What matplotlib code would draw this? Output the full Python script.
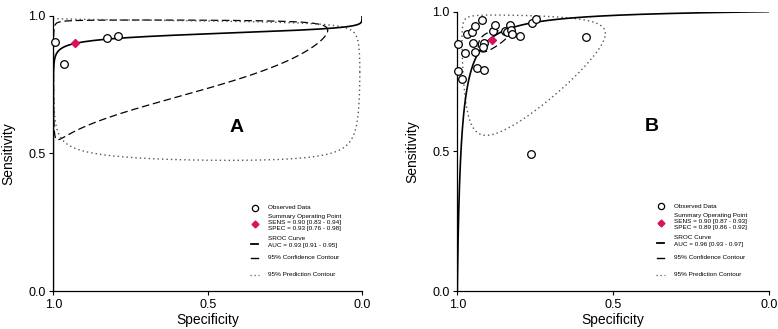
import numpy as np
import matplotlib.pyplot as plt

plt.rcParams['font.family'] = ['Liberation Sans', 'DejaVu Sans']

# ---- panel A data ----
a_spec = [0.995, 0.966, 0.827, 0.792]
a_sens = [0.905, 0.824, 0.920, 0.927]
a_summary = (0.93, 0.90)            # (spec, sens)
a_sroc = (2.666, 0.181)             # logit(sens) = alpha + beta*logit(1-spec)
# contours in logit space: centre u (logit fpr), centre v (logit sens), half-width u, half-width v, rho
a_conf = (-2.59, 2.20, 4.67, 2.00, 0.35)
a_pred = (-2.59, 2.25, 7.54, 2.35, -0.38)
a_text = ["SENS = 0.90 [0.83 - 0.94]", "SPEC = 0.93 [0.76 - 0.98]", "AUC = 0.93 [0.91 - 0.95]"]

# ---- panel B data ----
b_spec = [0.998, 0.998, 0.985, 0.974, 0.970, 0.953, 0.951, 0.942, 0.944, 0.938,
          0.922, 0.913, 0.914, 0.917, 0.887, 0.879, 0.846, 0.841, 0.830, 0.827,
          0.826, 0.799, 0.759, 0.749, 0.588, 0.765]
b_sens = [0.883, 0.789, 0.758, 0.853, 0.919, 0.926, 0.889, 0.947, 0.854, 0.800,
          0.970, 0.790, 0.889, 0.875, 0.930, 0.952, 0.932, 0.927, 0.951, 0.936,
          0.919, 0.913, 0.958, 0.975, 0.909, 0.489]
b_summary = (0.89, 0.90)
b_sroc = (4.30, 0.97)
b_conf = (-2.13, 2.20, 0.50, 0.42, 0.55)
b_pred = (-2.14, 2.32, 2.04, 2.09, 0.07)
b_text = ["SENS = 0.90 [0.87 - 0.93]", "SPEC = 0.89 [0.86 - 0.92]", "AUC = 0.96 [0.93 - 0.97]"]

diamond_col = '#d6135c'


def expit(x):
    return 1.0 / (1.0 + np.exp(-x))


def contour(params):
    cu, cv, ru, rv, rho = params
    t = np.linspace(0, 2 * np.pi, 600)
    u = cu + ru * np.cos(t)
    v = cv + rv * (rho * np.cos(t) + np.sqrt(1 - rho ** 2) * np.sin(t))
    return 1 - expit(u), expit(v)


def panel(ax, spec, sens, summary, sroc, conf, pred, texts, letter, lpos):
    u = np.linspace(-60, 60, 8000)
    ax.plot(1 - expit(u), expit(sroc[0] + sroc[1] * u), color='black', lw=1.2, zorder=3)
    cx, cy = contour(conf)
    ax.plot(cx, cy, color='black', lw=0.9, dashes=(6, 3), zorder=2)
    px, py = contour(pred)
    ax.plot(px, py, color='#555555', lw=1.0, linestyle=(0, (1, 2.2)), zorder=2)
    ax.plot(spec, sens, 'o', ms=5.5, mfc='white', mec='black', mew=0.9, clip_on=False, zorder=4)
    ax.plot(*summary, 'D', ms=4.5, color=diamond_col, clip_on=False, zorder=5)

    ax.set_xlim(1, 0)
    ax.set_ylim(0, 1)
    ax.set_xticks([1.0, 0.5, 0.0])
    ax.set_yticks([0.0, 0.5, 1.0])
    ax.set_xticklabels(['1.0', '0.5', '0.0'])
    ax.set_yticklabels(['0.0', '0.5', '1.0'])
    ax.tick_params(labelsize=9, length=3, width=0.8, pad=2.5)
    for s in ['top', 'right']:
        ax.spines[s].set_visible(False)
    for s in ['left', 'bottom']:
        ax.spines[s].set_linewidth(0.9)
    ax.set_xlabel('Specificity', fontsize=10, labelpad=1.5)
    ax.set_ylabel('Sensitivity', fontsize=10, labelpad=9)
    ax.text(lpos[0], lpos[1], letter, transform=ax.transAxes, fontsize=14,
            fontweight='bold', ha='center', va='center')

    # hand drawn legend
    tr = ax.transAxes
    mx, tx = 0.652, 0.695
    fs = 4.6
    ax.plot(mx, 0.303, 'o', ms=4.5, mfc='white', mec='black', mew=0.9, transform=tr, clip_on=False)
    ax.text(tx, 0.303, 'Observed Data', fontsize=fs, va='center', transform=tr)
    ax.plot(mx, 0.243, 'D', ms=3.5, color=diamond_col, transform=tr, clip_on=False)
    ax.text(tx, 0.272, 'Summary Operating Point', fontsize=fs, va='center', transform=tr)
    ax.text(tx, 0.250, texts[0], fontsize=fs, va='center', transform=tr)
    ax.text(tx, 0.227, texts[1], fontsize=fs, va='center', transform=tr)
    ax.plot([mx - 0.012, mx + 0.012], [0.171, 0.171], color='black', lw=1.3, transform=tr, clip_on=False)
    ax.text(tx, 0.190, 'SROC Curve', fontsize=fs, va='center', transform=tr)
    ax.text(tx, 0.166, texts[2], fontsize=fs, va='center', transform=tr)
    ax.plot([mx - 0.012, mx + 0.012], [0.119, 0.119], color='black', lw=1.0, transform=tr, clip_on=False)
    ax.text(tx, 0.120, '95% Confidence Contour', fontsize=fs, va='center', transform=tr)
    ax.plot([mx - 0.014, mx + 0.014], [0.059, 0.059], color='#555555', lw=0.9,
            linestyle=(0, (1, 2.2)), transform=tr, clip_on=False)
    ax.text(tx, 0.059, '95% Prediction Contour', fontsize=fs, va='center', transform=tr)


fig = plt.figure(figsize=(7.78, 3.29), dpi=100)
ax1 = fig.add_axes([0.0685, 0.1155, 0.3968, 0.836])
ax2 = fig.add_axes([0.5878, 0.1155, 0.4006, 0.849])

panel(ax1, a_spec, a_sens, a_summary, a_sroc, a_conf, a_pred, a_text, 'A', (0.595, 0.596))
panel(ax2, b_spec, b_sens, b_summary, b_sroc, b_conf, b_pred, b_text, 'B', (0.624, 0.588))

fig.savefig('out.png', dpi=100)
